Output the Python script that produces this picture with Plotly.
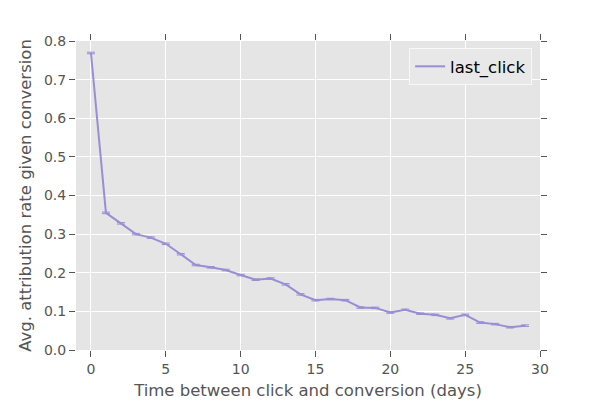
import plotly.graph_objects as go

days = list(range(30))
rate = [0.769, 0.355, 0.328, 0.300, 0.291, 0.275, 0.248, 0.220, 0.214, 0.207,
        0.194, 0.182, 0.185, 0.170, 0.144, 0.129, 0.132, 0.129, 0.110, 0.109,
        0.097, 0.104, 0.094, 0.091, 0.082, 0.091, 0.071, 0.067, 0.059, 0.063]
err = [0.002] * 30

x_ticks = [0, 5, 10, 15, 20, 25, 30]
y_ticks = [0.0, 0.1, 0.2, 0.3, 0.4, 0.5, 0.6, 0.7, 0.8]

fig = go.Figure()
fig.add_trace(go.Scatter(
    x=days, y=rate, mode="lines", name="last_click",
    line=dict(color="#988ED5", width=2),
    error_y=dict(type="data", array=err, visible=True, color="#988ED5",
                 thickness=1, width=4),
))

axis_common = dict(
    showgrid=True, gridcolor="white", gridwidth=1,
    zeroline=False, showline=False,
    ticks="outside", ticklen=6, tickwidth=1, tickcolor="#555555",
    mirror="ticks", automargin=False,
    tickfont=dict(family="DejaVu Sans", size=14, color="#555555"),
)

fig.update_layout(
    width=600, height=400,
    margin=dict(l=68, r=68, t=33, b=58, autoexpand=False),
    paper_bgcolor="white", plot_bgcolor="#E5E5E5",
    font=dict(family="DejaVu Sans", color="#555555"),
    xaxis=dict(range=[-1, 30], tickvals=x_ticks,
               ticktext=[str(v) for v in x_ticks],
               title=dict(text="Time between click and conversion (days)",
                          font=dict(size=16.5, color="#555555"), standoff=8),
               **axis_common),
    yaxis=dict(range=[0, 0.8], tickvals=y_ticks,
               ticktext=[f"{v:.1f}" for v in y_ticks],
               title=dict(text="Avg. attribution rate given conversion",
                          font=dict(size=16.5, color="#555555"), standoff=8),
               **axis_common),
    showlegend=True,
    legend=dict(x=0.983, y=0.977, xanchor="right", yanchor="top",
                bgcolor="#E8E8E8", bordercolor="#F8F8F8", borderwidth=1,
                entrywidth=125, entrywidthmode="pixels",
                font=dict(family="DejaVu Sans", size=16.5, color="black")),
)

fig.write_html("out.html")
